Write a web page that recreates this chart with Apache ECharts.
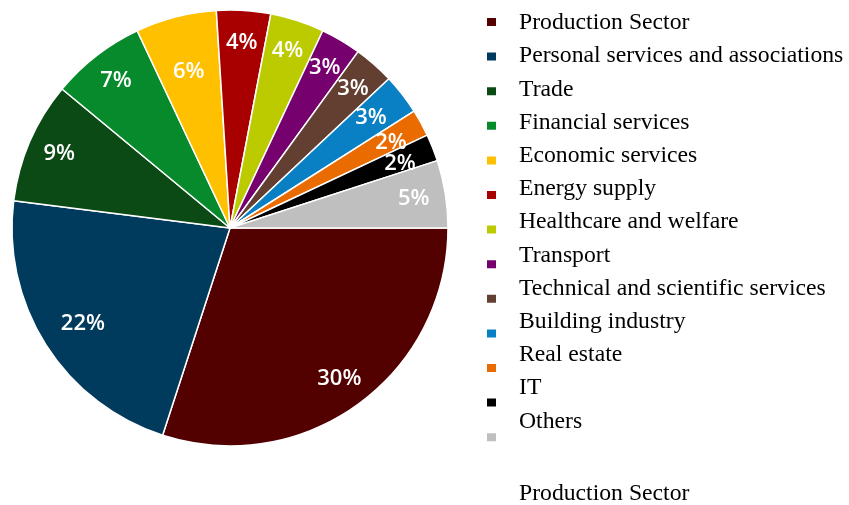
<!DOCTYPE html>
<html>
<head>
<meta charset="utf-8">
<script src="https://cdn.jsdelivr.net/npm/echarts@6/dist/echarts.min.js"></script>
<style>
  html, body { margin: 0; padding: 0; background: #ffffff; }
  #chart { width: 849px; height: 505px; }
</style>
</head>
<body>
<div id="chart"></div>
<script>
// Share of companies by sector (percent)
const sectors = [
  'Production Sector',
  'Personal services and associations',
  'Trade',
  'Financial services',
  'Economic services',
  'Energy supply',
  'Healthcare and welfare',
  'Transport',
  'Technical and scientific services',
  'Building industry',
  'Real estate',
  'IT',
  'Others'
];
const shares = [30, 22, 9, 7, 6, 4, 4, 3, 3, 3, 2, 2, 5];
const sectorColors = [
  '#520000', '#003b5e', '#0b4a15', '#078a2c', '#ffc000', '#a80000',
  '#bccb00', '#76006e', '#633f32', '#0a80c4', '#ea6b00', '#000000', '#bfbfbf'
];
const chartTitle = 'Production Sector';

// small hand nudges (px) for a few percentage labels, by slice index
const labelNudge = { 1: [10, -4], 4: [5, 24], 9: [-6, 4], 10: [-2, 4], 11: [-3, 4] };

const pieData = sectors.map((name, i) => ({ name: name, value: shares[i] }));

const serif = '"Liberation Serif", "Times New Roman", serif';
const chart = echarts.init(document.getElementById('chart'));

chart.setOption({
  animation: false,
  color: sectorColors,
  title: {
    text: chartTitle,
    left: 514,
    top: 477,
    textStyle: { fontFamily: serif, fontSize: 23.7, fontWeight: 'normal', color: '#000000' }
  },
  legend: [
    {
      // colour swatches
      orient: 'vertical',
      left: 485,
      top: 16,
      padding: 0,
      itemWidth: 11,
      itemHeight: 10,
      itemGap: 22.6,
      icon: 'rect',
      data: sectors,
      formatter: () => '',
      textStyle: { fontSize: 1, lineHeight: 1 },
      selectedMode: false
    },
    {
      // sector names
      orient: 'vertical',
      left: 498,
      top: 6,
      itemWidth: 10,
      itemHeight: 10,
      textGap: 10,
      itemGap: 9.2,
      icon: 'rect',
      itemStyle: { opacity: 0 },
      data: sectors,
      selectedMode: false,
      textStyle: { fontFamily: serif, fontSize: 23.7, lineHeight: 24, color: '#000000' }
    }
  ],
  series: [
    {
      type: 'pie',
      center: [230, 228],
      radius: [0, 218],
      startAngle: 0,
      clockwise: true,
      data: pieData,
      label: { show: false },
      labelLine: { show: false },
      itemStyle: { borderColor: '#ffffff', borderWidth: 1.5 },
      emphasis: { disabled: true }
    },
    {
      // percentage labels placed in the outer part of each slice
      type: 'pie',
      center: [230, 228],
      radius: [148, 218],
      startAngle: 0,
      clockwise: true,
      silent: true,
      avoidLabelOverlap: false,
      data: pieData,
      itemStyle: { color: 'rgba(0,0,0,0)', borderWidth: 0 },
      label: {
        show: true,
        position: 'inside',
        formatter: '{c}%',
        color: '#ffffff',
        fontFamily: '"Open Sans", "Noto Sans", sans-serif',
        fontWeight: 600,
        fontSize: 22
      },
      labelLayout: function (params) {
        const n = labelNudge[params.dataIndex];
        return n ? { hideOverlap: false, dx: n[0], dy: n[1] } : { hideOverlap: false };
      },
      labelLine: { show: false },
      emphasis: { disabled: true }
    }
  ]
});
</script>
</body>
</html>
